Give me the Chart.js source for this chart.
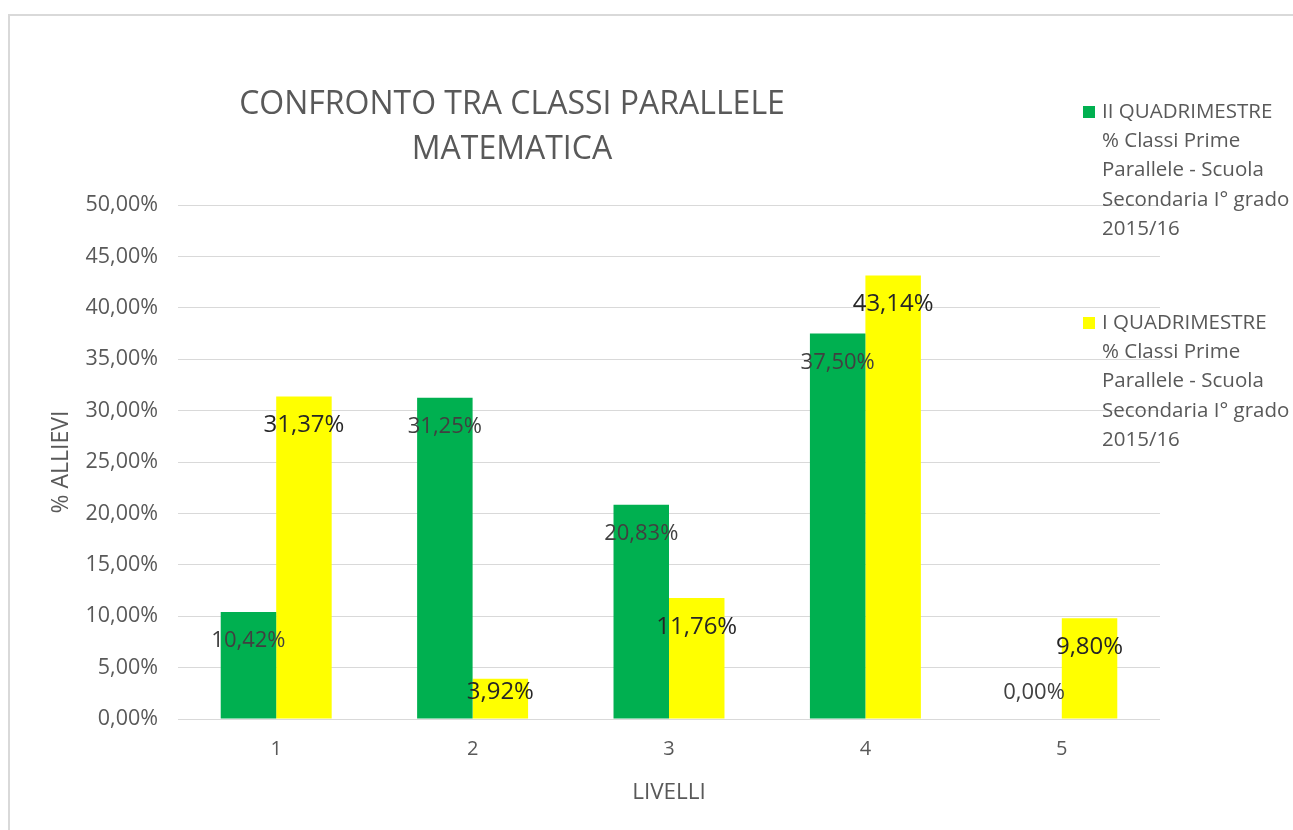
<!DOCTYPE html>
<html>
<head>
<meta charset="utf-8">
<script src="https://cdn.jsdelivr.net/npm/chart.js@4/dist/chart.umd.min.js"></script>
<style>
  html, body { margin: 0; padding: 0; background: #fff; }
  #frame { position: absolute; left: 8px; top: 14px; width: 1285px; height: 816px;
           border-left: 2px solid #d9d9d9; border-top: 2px solid #d9d9d9; box-sizing: border-box; }
  #wrap { position: absolute; left: 0; top: 0; width: 1293px; height: 830px; }
</style>
</head>
<body>
<div id="frame"></div>
<div id="wrap"><canvas id="chart"></canvas></div>
<script>
// data
const levels = ['1', '2', '3', '4', '5'];
const secondTerm = [10.42, 31.25, 20.83, 37.50, 0.00];
const firstTerm = [31.37, 3.92, 11.76, 43.14, 9.80];
const secondTermName = ['II QUADRIMESTRE', '% Classi Prime', 'Parallele - Scuola', 'Secondaria I° grado', '2015/16'];
const firstTermName = ['I QUADRIMESTRE', '% Classi Prime', 'Parallele - Scuola', 'Secondaria I° grado', '2015/16'];
const titleLines = ['CONFRONTO TRA CLASSI PARALLELE', 'MATEMATICA'];

const FONT = "'Open Sans', sans-serif";
const pct = v => v.toFixed(2).replace('.', ',') + '%';

// title + legend drawn on the canvas (Excel-like placement)
const decorPlugin = {
  id: 'decor',
  afterDraw(chart) {
    const ctx = chart.ctx;
    ctx.save();
    ctx.fillStyle = '#595959';
    ctx.textAlign = 'center';
    ctx.textBaseline = 'middle';
    ctx.font = '32px ' + FONT;
    titleLines.forEach((t, i) => ctx.fillText(t, 512, 105 + i * 45));

    const blocks = [[secondTermName, 112], [firstTermName, 323]];
    ctx.textAlign = 'left';
    ctx.font = '20.5px ' + FONT;
    blocks.forEach(([lines, y0], i) => {
      ctx.fillStyle = chart.data.datasets[i].backgroundColor;
      ctx.fillRect(1083, y0 - 6, 12, 12);
      ctx.fillStyle = '#595959';
      lines.forEach((t, j) => ctx.fillText(t, 1102, y0 + j * 29.3));
    });
    ctx.restore();
  }
};

// value labels, inside the top of each bar
const valueLabels = {
  id: 'valueLabels',
  afterDatasetsDraw(chart) {
    const ctx = chart.ctx;
    ctx.save();
    ctx.textAlign = 'center';
    ctx.textBaseline = 'middle';
    chart.data.datasets.forEach((ds, i) => {
      const meta = chart.getDatasetMeta(i);
      ctx.font = (i === 0 ? '22px ' : '24px ') + FONT;
      ctx.fillStyle = i === 0 ? '#404040' : '#262626';
      meta.data.forEach((bar, j) => {
        const y = Math.min(bar.y + 29, bar.base - 26);
        ctx.fillText(pct(ds.data[j]), bar.x, y);
      });
    });
    ctx.restore();
  }
};

new Chart(document.getElementById('chart').getContext('2d'), {
  type: 'bar',
  data: {
    labels: levels,
    datasets: [
      { label: secondTermName.join(' '), data: secondTerm, backgroundColor: '#00B050' },
      { label: firstTermName.join(' '), data: firstTerm, backgroundColor: '#FFFF00' }
    ]
  },
  options: {
    responsive: true,
    maintainAspectRatio: false,
    animation: false,
    categoryPercentage: 0.565,
    barPercentage: 1,
    layout: { padding: { top: 205, right: 133, bottom: 24, left: 0 } },
    plugins: {
      legend: { display: false },
      tooltip: { enabled: false }
    },
    scales: {
      x: {
        grid: { display: false, drawTicks: false },
        border: { display: false },
        ticks: { color: '#595959', font: { family: FONT, size: 20 }, padding: 18 },
        title: { display: true, text: 'LIVELLI', color: '#595959',
                 font: { family: FONT, size: 22.5 }, padding: { top: 0, bottom: 0 } }
      },
      y: {
        min: 0, max: 50,
        afterFit: scale => { scale.width = 178; },
        grid: { color: '#d9d9d9', lineWidth: 1, drawTicks: false },
        border: { display: false },
        ticks: { stepSize: 5, color: '#595959', font: { family: FONT, size: 21.5 }, padding: 20,
                 callback: v => pct(v) },
        title: { display: true, text: '% ALLIEVI', color: '#595959',
                 font: { family: FONT, size: 23 }, padding: { top: 48, bottom: 0 } }
      }
    }
  },
  plugins: [valueLabels, decorPlugin]
});
</script>
</body>
</html>
